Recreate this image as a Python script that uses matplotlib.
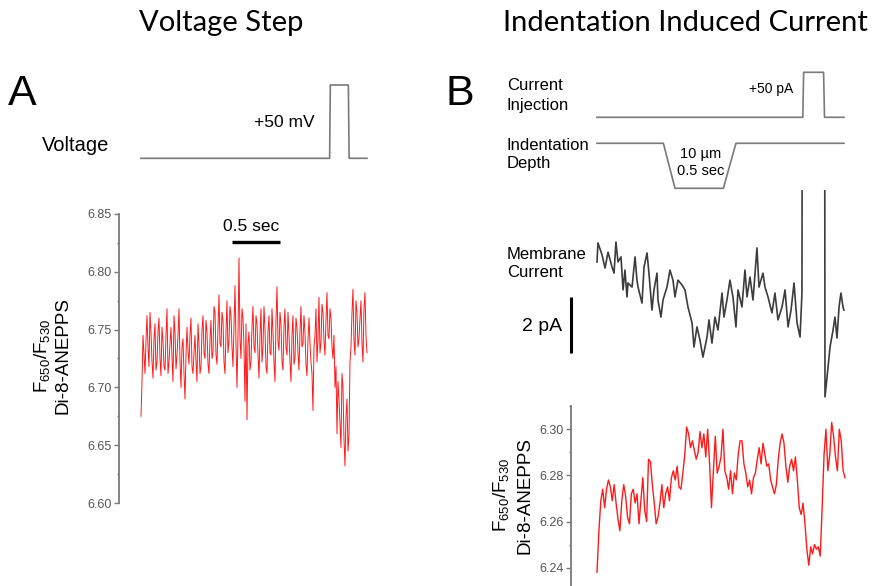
import numpy as np
import matplotlib.pyplot as plt
from matplotlib.ticker import MultipleLocator

plt.rcParams['font.family'] = ['Liberation Sans', 'DejaVu Sans']
plt.rcParams['mathtext.fontset'] = 'custom'
plt.rcParams['mathtext.rm'] = 'Liberation Sans'
plt.rcParams['mathtext.it'] = 'Liberation Sans:italic'

# ---- panel A: voltage step ----
volt_t = [0.0, 1.965, 1.972, 2.160, 2.168, 2.354]   # s
volt_mV = [0, 0, 50, 50, 0, 0]
ratio_a_end = 2.354  # s, length of the fluorescence record
ratio_a = [6.675, 6.705, 6.745, 6.728, 6.712, 6.740, 6.762, 6.735, 6.718, 6.765,
           6.748, 6.722, 6.708, 6.742, 6.755, 6.715, 6.722, 6.748, 6.760, 6.725,
           6.710, 6.752, 6.740, 6.718, 6.715, 6.745, 6.768, 6.712, 6.722, 6.738,
           6.752, 6.726, 6.705, 6.762, 6.748, 6.716, 6.728, 6.745, 6.768, 6.722,
           6.700, 6.735, 6.742, 6.712, 6.690, 6.728, 6.752, 6.732, 6.720, 6.745,
           6.760, 6.718, 6.712, 6.730, 6.745, 6.722, 6.705, 6.755, 6.738, 6.712,
           6.718, 6.750, 6.762, 6.730, 6.725, 6.758, 6.748, 6.720, 6.712, 6.742,
           6.758, 6.725, 6.730, 6.770, 6.765, 6.728, 6.720, 6.752, 6.780, 6.738,
           6.735, 6.765, 6.758, 6.722, 6.712, 6.748, 6.775, 6.730, 6.740, 6.770,
           6.762, 6.735, 6.718, 6.752, 6.788, 6.738, 6.700, 6.745, 6.812, 6.742,
           6.725, 6.768, 6.760, 6.735, 6.688, 6.755, 6.672, 6.738, 6.748, 6.715,
           6.722, 6.752, 6.770, 6.735, 6.730, 6.762, 6.755, 6.728, 6.708, 6.745,
           6.768, 6.722, 6.735, 6.770, 6.750, 6.718, 6.712, 6.748, 6.762, 6.730,
           6.728, 6.768, 6.748, 6.722, 6.705, 6.758, 6.787, 6.740, 6.732, 6.765,
           6.755, 6.722, 6.715, 6.752, 6.768, 6.735, 6.728, 6.765, 6.745, 6.722,
           6.705, 6.745, 6.762, 6.720, 6.725, 6.760, 6.752, 6.730, 6.715, 6.748,
           6.770, 6.735, 6.738, 6.762, 6.748, 6.720, 6.710, 6.742, 6.760, 6.738,
           6.722, 6.712, 6.680, 6.735, 6.745, 6.768, 6.722, 6.742, 6.778, 6.730,
           6.738, 6.772, 6.765, 6.740, 6.728, 6.758, 6.782, 6.745, 6.742, 6.768,
           6.760, 6.735, 6.725, 6.745, 6.700, 6.718, 6.660, 6.705, 6.690, 6.668,
           6.648, 6.712, 6.700, 6.655, 6.632, 6.675, 6.690, 6.645, 6.658, 6.722,
           6.735, 6.765, 6.785, 6.740, 6.728, 6.775, 6.765, 6.735, 6.742, 6.760,
           6.775, 6.738, 6.722, 6.768, 6.782, 6.745, 6.730]
ratio_a_ticks = [6.60, 6.65, 6.70, 6.75, 6.80, 6.85]

# ---- panel B: indentation induced current ----
inj_t = [0.0, 1.715, 1.722, 1.888, 1.896, 2.058]    # s
inj_pA = [0, 0, 50, 50, 0, 0]
indent_t = [0.0, 0.553, 0.650, 1.053, 1.158, 2.058]
indent_um = [0, 0, -10, -10, 0, 0]
mem_t = [0.000, 0.008, 0.042, 0.067, 0.092, 0.125, 0.142, 0.158, 0.175, 0.200,
         0.217, 0.233, 0.250, 0.258, 0.292, 0.317, 0.333, 0.342, 0.375, 0.392,
         0.417, 0.433, 0.458, 0.475, 0.500, 0.508, 0.533, 0.550, 0.583, 0.608,
         0.633, 0.650, 0.675, 0.708, 0.733, 0.758, 0.792, 0.808, 0.833, 0.858,
         0.883, 0.917, 0.933, 0.958, 0.983, 1.008, 1.042, 1.058, 1.083, 1.108,
         1.133, 1.158, 1.175, 1.208, 1.233, 1.250, 1.275, 1.300, 1.333, 1.350,
         1.383, 1.400, 1.425, 1.458, 1.483, 1.508, 1.542, 1.567, 1.592, 1.617,
         1.642, 1.667, 1.692, 1.708, 1.717, 1.892, 1.900, 1.917, 1.942, 1.967,
         1.983, 2.000, 2.017, 2.033, 2.050, 2.058]
mem_pA = [1.36, 2.04, 1.61, 1.14, 1.71, 1.18, 0.96, 2.07, 1.36, 1.54,
          0.36, 1.07, 0.11, 0.61, 0.46, 1.54, 0.71, 0.46, -0.11, 1.18,
          1.68, 0.96, -0.36, 0.36, 0.96, 0.00, -0.61, 0.00, 0.46, 1.07,
          0.71, 0.11, 0.71, 0.54, 0.36, -0.25, -0.82, -1.68, -0.96, -1.43,
          -2.04, -1.32, -0.71, -1.54, -0.61, -1.07, 0.25, -0.61, 0.00, 0.71,
          0.11, -0.96, 0.36, -0.25, 1.07, 0.11, 0.82, 0.00, 1.86, 0.46,
          0.96, 0.46, 0.11, -0.46, 0.25, -0.71, -0.25, 0.36, -0.96, -0.36,
          0.61, -0.82, -1.32, 0.25, 30.0, 30.0, -3.46, -2.75, -1.68, -1.07,
          -0.61, -1.36, -0.25, 0.25, -0.25, -0.36]
ratio_b_end = 2.067
ratio_b = [6.238, 6.256, 6.269, 6.274, 6.266, 6.274, 6.278, 6.275, 6.269, 6.276,
           6.268, 6.261, 6.256, 6.269, 6.276, 6.271, 6.262, 6.259, 6.272, 6.274,
           6.268, 6.272, 6.259, 6.269, 6.279, 6.265, 6.260, 6.287, 6.286, 6.276,
           6.268, 6.259, 6.262, 6.268, 6.276, 6.266, 6.272, 6.275, 6.269, 6.279,
           6.282, 6.278, 6.284, 6.275, 6.274, 6.281, 6.289, 6.301, 6.298, 6.292,
           6.295, 6.291, 6.287, 6.290, 6.299, 6.292, 6.298, 6.288, 6.300, 6.285,
           6.266, 6.282, 6.297, 6.281, 6.284, 6.288, 6.300, 6.282, 6.279, 6.274,
           6.282, 6.272, 6.281, 6.278, 6.289, 6.295, 6.295, 6.285, 6.281, 6.275,
           6.278, 6.272, 6.279, 6.281, 6.287, 6.292, 6.285, 6.294, 6.289, 6.284,
           6.285, 6.278, 6.275, 6.272, 6.276, 6.287, 6.294, 6.298, 6.294, 6.284,
           6.277, 6.284, 6.287, 6.282, 6.288, 6.278, 6.266, 6.263, 6.268, 6.259,
           6.248, 6.241, 6.249, 6.246, 6.250, 6.248, 6.249, 6.245, 6.266, 6.289,
           6.300, 6.282, 6.289, 6.303, 6.297, 6.288, 6.282, 6.300, 6.295, 6.282,
           6.279]
ratio_b_ticks = [6.24, 6.26, 6.28, 6.30]

W, H = 879, 586
fig = plt.figure(figsize=(W / 100, H / 100), dpi=100)
gray = '#7a7a7a'
title_font = ['Lato', 'DejaVu Sans']


def px_axes(x0, y0, x1, y1):
    ax = fig.add_axes([x0 / W, 1 - y1 / H, (x1 - x0) / W, (y1 - y0) / H])
    ax.patch.set_alpha(0)
    return ax


def ftext(x, y, s, **kw):
    kw.setdefault('va', 'baseline')
    return fig.text(x / W, 1 - y / H, s, **kw)


def ratio_axes(ax, ticks, minor):
    for s in ['top', 'right', 'bottom']:
        ax.spines[s].set_visible(False)
    ax.spines['left'].set_color(gray)
    ax.spines['left'].set_linewidth(1.3)
    ax.set_xticks([])
    ax.set_yticks(ticks)
    ax.set_yticklabels(['%.2f' % v for v in ticks])
    ax.yaxis.set_minor_locator(MultipleLocator(minor))
    ax.tick_params(axis='y', which='major', length=3.5, width=1, color=gray,
                   labelsize=9, labelcolor='#555555', pad=2)
    ax.tick_params(axis='y', which='minor', length=1.8, width=1, color=gray)


# ---- A ----
px_per_s_a = 96.0
ta0 = -(141 - 119) / px_per_s_a
ta1 = (368 - 141) / px_per_s_a

ax_v = px_axes(119, 78, 368, 166)
ax_v.plot(volt_t, volt_mV, color=gray, lw=1.2)
ax_v.set_xlim(ta0, ta1)
ax_v.set_ylim(-(166 - 158.3) / 73.3 * 50, 50 + (85 - 78) / 73.3 * 50)
ax_v.axis('off')

ax_a = px_axes(119, 214, 368, 503)
t_a = np.linspace(0, ratio_a_end, len(ratio_a))
ax_a.plot(t_a, ratio_a, color='#ff1a1a', lw=0.7)
ax_a.set_xlim(ta0, ta1)
ax_a.set_ylim(6.60, 6.85)
ratio_axes(ax_a, ratio_a_ticks, 0.025)
ax_a.plot([0.948, 0.948 + 0.5], [6.826, 6.826], color='black', lw=2.4,
          solid_capstyle='butt')

ftext(221.5, 23, 'Voltage Step', family=title_font, fontsize=21,
      ha='center', va='center')
ftext(8, 105, 'A', fontsize=31)
ftext(42, 151, 'Voltage', fontsize=14.5)
ftext(254, 127, '+50 mV', fontsize=12.5)
ftext(223, 231, '0.5 sec', fontsize=12.5)
ftext(42, 356, 'F$_{650}$/F$_{530}$', fontsize=13.5, rotation=90,
      ha='center', va='center')
ftext(63, 355, 'Di-8-ANEPPS', fontsize=13.5, rotation=90,
      ha='center', va='center')

# ---- B ----
px_per_s_b = 120.0
tb0 = -(597 - 571) / px_per_s_b
tb1 = (846 - 597) / px_per_s_b

ax_i = px_axes(571, 65, 846, 125)
ax_i.plot(inj_t, inj_pA, color=gray, lw=1.2)
ax_i.set_xlim(tb0, tb1)
ax_i.set_ylim(-(125 - 117.3) / 45 * 50, 50 + (72.3 - 65) / 45 * 50)
ax_i.axis('off')

ax_d = px_axes(571, 135, 846, 196)
ax_d.plot(indent_t, indent_um, color=gray, lw=1.2)
ax_d.set_xlim(tb0, tb1)
ax_d.set_ylim(-10 - (196 - 188.3) / 4.5, (143.3 - 135) / 4.5)
ax_d.axis('off')

ax_m = px_axes(571, 190, 846, 400)
ax_m.plot(mem_t, mem_pA, color='#3c3c3c', lw=1.2)
ax_m.set_xlim(tb0, tb1)
ax_m.set_ylim(-(400 - 300) / 28, (300 - 190) / 28)
ax_m.axis('off')
ax_m.plot([tb0, tb0], [0.1, 0.1 - 2], color='black', lw=2.2,
          solid_capstyle='butt', clip_on=False)

ax_b = px_axes(571, 406, 846, 586)
t_b = np.linspace(0, ratio_b_end, len(ratio_b))
ax_b.plot(t_b, ratio_b, color='#ff1a1a', lw=1.0)
ax_b.set_xlim(tb0, tb1)
ax_b.set_ylim(6.30 - (586 - 429.3) / 46.1 * 0.02, 6.30 + (429.3 - 406) / 46.1 * 0.02)
ratio_axes(ax_b, ratio_b_ticks, 0.01)

ftext(685.5, 23, 'Indentation Induced Current', family=title_font,
      fontsize=21, ha='center', va='center')
ftext(446, 105, 'B', fontsize=31)
ftext(507, 90, 'Current', fontsize=12)
ftext(507, 110, 'Injection', fontsize=12)
ftext(749, 93, '+50 pA', fontsize=10)
ftext(507, 150, 'Indentation', fontsize=12)
ftext(507, 168, 'Depth', fontsize=12)
ftext(680, 158, '10 \u00b5m', fontsize=10.5)
ftext(677, 175, '0.5 sec', fontsize=10.5)
ftext(507, 259, 'Membrane', fontsize=12)
ftext(507, 277, 'Current', fontsize=12)
ftext(522, 331, '2 pA', fontsize=14)
ftext(501, 495, 'F$_{650}$/F$_{530}$', fontsize=13.5, rotation=90,
      ha='center', va='center')
ftext(525, 496, 'Di-8-ANEPPS', fontsize=13.5, rotation=90,
      ha='center', va='center')

fig.savefig('out.png', dpi=100)
